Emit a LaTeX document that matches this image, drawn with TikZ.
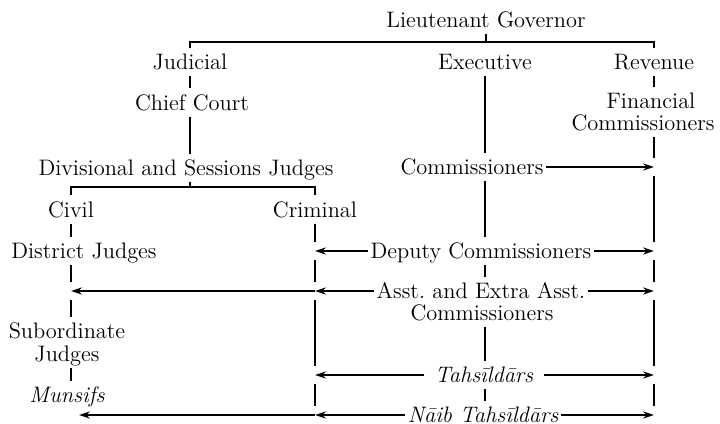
\documentclass[tikz,border=0pt]{standalone}
\usetikzlibrary{arrows.meta}

\begin{document}
\begin{tikzpicture}[x=0.5pt, y=-0.5pt, line width=0.8pt,
    every node/.style={font=\fontsize{11.2}{13}\selectfont, text height=7.5pt, text depth=0pt, inner sep=3pt},
    snug/.style={inner xsep=1pt},
    roomy/.style={inner xsep=5pt},
    arr/.style={-{Stealth[length=5.5pt, width=3.6pt]}},
    gapend/.style={shorten >=4.5pt},
    gapstart/.style={shorten <=4.5pt},
    gapboth/.style={shorten <=4.5pt, shorten >=4.5pt}]
    \useasboundingbox (0,0) rectangle (720,424);

    % Top: Lieutenant Governor and the three branches
    \node (lg) at (486,20) {Lieutenant Governor};
    \node (judicial) at (190,62) {Judicial};
    \node (executive) at (485,62) {Executive};
    \node (revenue) at (654,62) {Revenue};
    \coordinate (lgbar) at (486,42);
    \draw (lg.south) -- (lgbar);
    \draw (judicial.north) -- (judicial.north |- lgbar) -- (revenue.north |- lgbar) -- (revenue.north);

    % Judicial branch
    \node (chief) at (192,102.5) {Chief Court};
    \node (div) at (186,168) {Divisional and Sessions Judges};
    \draw (judicial.south) -- (judicial.south |- chief.north);
    \draw (chief.south -| judicial) -- (div.north -| judicial);
    \coordinate (divbar) at (190,187);
    \node (civil) at (71,209.5) {Civil};
    \node (criminal) at (315,209.5) {Criminal};
    \draw (div.south -| divbar) -- (divbar);
    \draw (civil.north) -- (civil.north |- divbar) -- (criminal.north |- divbar) -- (criminal.north);

    % Civil side
    \node (district) at (84,251) {District Judges};
    \node (sub) at (67,331) {Subordinate};
    \node (subj) at (67,354) {Judges};
    \node (munsifs) at (67,395) {\itshape Munsifs};
    \coordinate (cvA) at (71,291);
    \coordinate (cvN) at (79,415);
    \draw (civil.south) -- (civil.south |- district.north);
    \draw[gapend] (district.south -| civil) -- (cvA);
    \draw[gapstart] (cvA) -- (civil |- sub.north);
    \draw (subj.south -| civil) -- (civil |- munsifs.north);

    % Criminal side
    \coordinate (crD) at (315,251);
    \coordinate (crA) at (315,291);
    \coordinate (crT) at (315,375);
    \coordinate (crN) at (315,415);
    \draw[gapend] (criminal.south) -- (crD);
    \draw[gapboth] (crD) -- (crA);
    \draw[gapboth] (crA) -- (crT);
    \draw[gapboth] (crT) -- (crN);

    % Executive branch
    \node[snug] (comm) at (472,167) {Commissioners};
    \node[snug] (deputy) at (481,251) {Deputy Commissioners};
    \node[snug] (asst) at (481,291) {Asst.\ and Extra Asst.};
    \node (asstc) at (482,313) {Commissioners};
    \node[roomy] (tahs) at (484,375) {\itshape Tahsīldārs};
    \node[snug] (naib) at (483,415) {\itshape Nāib Tahsīldārs};
    \draw (executive.south) -- (executive.south |- comm.north);
    \draw (comm.south -| executive) -- (deputy.north -| executive);
    \draw (deputy.south -| executive) -- (asst.north -| executive);
    \draw (asstc.south -| executive) -- (tahs.north -| executive);
    \draw (tahs.south -| executive) -- (naib.north -| executive);

    % Revenue branch
    \node (fin) at (651,101) {Financial};
    \node (finc) at (643,123) {Commissioners};
    \coordinate (rvC) at (654,167);
    \coordinate (rvD) at (654,251);
    \coordinate (rvA) at (654,291);
    \coordinate (rvT) at (654,375);
    \coordinate (rvN) at (654,415);
    \draw (revenue.south) -- (revenue.south |- fin.north);
    \draw[gapend] (finc.south -| revenue) -- (rvC);
    \draw[gapboth] (rvC) -- (rvD);
    \draw[gapboth] (rvD) -- (rvA);
    \draw[gapboth] (rvA) -- (rvT);
    \draw[gapboth] (rvT) -- (rvN);

    % Cross arrows
    \draw[arr] (comm.east) -- (rvC);
    \draw[arr] (deputy.east) -- (rvD);
    \draw[arr] (deputy.west) -- (crD);
    \draw[arr] (asst.east) -- (rvA);
    \draw[arr] (asst.west) -- (crA);
    \draw[arr] (crA) -- (cvA);
    \draw[arr] (tahs.east) -- (rvT);
    \draw[arr] (tahs.west) -- (crT);
    \draw[arr] (naib.east) -- (rvN);
    \draw[arr] (naib.west) -- (crN);
    \draw[arr] (crN) -- (cvN);
\end{tikzpicture}
\end{document}
